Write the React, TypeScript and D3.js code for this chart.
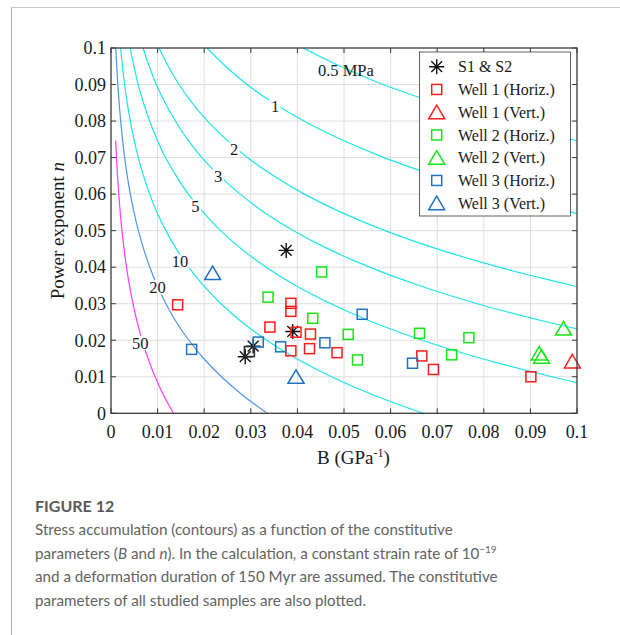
import React from "react";
import * as d3 from "d3";

type Pt = [number, number];

// Axis ticks (B in GPa^-1, power exponent n)
const axisTicks = [0, 0.01, 0.02, 0.03, 0.04, 0.05, 0.06, 0.07, 0.08, 0.09, 0.1];
const tickLabels = ["0", "0.01", "0.02", "0.03", "0.04", "0.05", "0.06", "0.07", "0.08", "0.09", "0.1"];

// Stress contours (MPa): [B, n] vertices along each level
const contourLevels = [0.5, 1, 2, 3, 5, 10, 20, 50];

const contour05: Pt[] = [
  [0.0412, 0.1], [0.0492, 0.095], [0.0584, 0.09], [0.0696, 0.085], [0.0828, 0.08], [0.0903, 0.0775], [0.1, 0.0746],
];
const contour1: Pt[] = [
  [0.0206, 0.1], [0.0246, 0.095], [0.0292, 0.09], [0.0348, 0.085], [0.0414, 0.08], [0.0493, 0.075],
  [0.0586, 0.07], [0.0698, 0.065], [0.083, 0.06], [0.1, 0.0547],
];
const contour2: Pt[] = [
  [0.0103, 0.1], [0.0123, 0.095], [0.0146, 0.09], [0.0174, 0.085], [0.0207, 0.08], [0.0247, 0.075],
  [0.0293, 0.07], [0.0349, 0.065], [0.0415, 0.06], [0.0494, 0.055], [0.0588, 0.05], [0.07, 0.045],
  [0.0833, 0.04], [0.1, 0.0347],
];
const contour3: Pt[] = [
  [0.00687, 0.1], [0.0082, 0.095], [0.00973, 0.09], [0.0116, 0.085], [0.0138, 0.08], [0.0164, 0.075],
  [0.0195, 0.07], [0.0233, 0.065], [0.0277, 0.06], [0.0329, 0.055], [0.0392, 0.05], [0.0466, 0.045],
  [0.0555, 0.04], [0.0661, 0.035], [0.0786, 0.03], [0.0936, 0.025], [0.1, 0.0231],
];
const contour5: Pt[] = [
  [0.00412, 0.1], [0.00492, 0.095], [0.00584, 0.09], [0.00696, 0.085], [0.00828, 0.08], [0.00986, 0.075],
  [0.0117, 0.07], [0.014, 0.065], [0.0166, 0.06], [0.0198, 0.055], [0.0235, 0.05], [0.028, 0.045],
  [0.0333, 0.04], [0.0396, 0.035], [0.0472, 0.03], [0.0561, 0.025], [0.0668, 0.02], [0.0795, 0.015],
  [0.0946, 0.01], [0.1, 0.0084],
];
const contour10: Pt[] = [
  [0.00206, 0.1], [0.00246, 0.095], [0.00292, 0.09], [0.00348, 0.085], [0.00414, 0.08], [0.00493, 0.075],
  [0.00586, 0.07], [0.00698, 0.065], [0.0083, 0.06], [0.00988, 0.055], [0.01176, 0.05], [0.014, 0.045],
  [0.01665, 0.04], [0.01982, 0.035], [0.02359, 0.03], [0.02807, 0.025], [0.03341, 0.02], [0.03975, 0.015],
  [0.04731, 0.01], [0.0563, 0.005], [0.067, 0],
];
const contour20: Pt[] = [
  [0.00103, 0.1], [0.00123, 0.095], [0.00146, 0.09], [0.00174, 0.085], [0.00207, 0.08], [0.00247, 0.075],
  [0.00293, 0.07], [0.00349, 0.065], [0.00415, 0.06], [0.00494, 0.055], [0.00588, 0.05], [0.007, 0.045],
  [0.00833, 0.04], [0.00991, 0.035], [0.0118, 0.03], [0.014, 0.025], [0.0167, 0.02], [0.0199, 0.015],
  [0.0237, 0.01], [0.0282, 0.005], [0.0335, 0],
];
const contour50: Pt[] = [
  [0.001, 0.0746], [0.00117, 0.07], [0.0014, 0.065], [0.00166, 0.06], [0.00198, 0.055], [0.00235, 0.05],
  [0.0028, 0.045], [0.00333, 0.04], [0.00396, 0.035], [0.00472, 0.03], [0.00561, 0.025], [0.00668, 0.02],
  [0.00795, 0.015], [0.00946, 0.01], [0.01126, 0.005], [0.0134, 0],
];

// Contour label text and anchor points [B, n]
const contourLabelText = ["1", "2", "3", "5", "10", "20", "50"];
const contourLabelPos: Pt[] = [
  [0.0352, 0.084], [0.0264, 0.0722], [0.023, 0.065], [0.0181, 0.0566], [0.0148, 0.0415], [0.01, 0.0345], [0.0063, 0.0193],
];
const unitLabelText = "0.5 MPa";
const unitLabelPos: Pt = [0.0504, 0.0938];

// Sample constitutive parameters [B, n]
const s1s2: Pt[] = [[0.0376, 0.0446], [0.039, 0.0224], [0.0305, 0.0184], [0.0288, 0.0155]];
const s1s2Square: Pt[] = [[0.0297, 0.0169]];
const well1Horiz: Pt[] = [
  [0.0143, 0.0297], [0.0386, 0.0301], [0.0386, 0.0279], [0.0341, 0.0236], [0.0397, 0.0222], [0.0428, 0.0217],
  [0.0386, 0.0171], [0.0426, 0.0177], [0.0485, 0.0166], [0.0667, 0.0157], [0.0692, 0.012], [0.0901, 0.01],
];
const well1Vert: Pt[] = [[0.099, 0.0142]];
const well2Horiz: Pt[] = [
  [0.0337, 0.0318], [0.0452, 0.0387], [0.0433, 0.026], [0.0509, 0.0216], [0.0529, 0.0146], [0.0662, 0.0219],
  [0.0731, 0.016], [0.0768, 0.0207],
];
const well2Vert: Pt[] = [[0.0971, 0.0232], [0.0919, 0.0164], [0.0924, 0.0155]];
const well3Horiz: Pt[] = [
  [0.0173, 0.0175], [0.0316, 0.0195], [0.0364, 0.0182], [0.0459, 0.0193], [0.0539, 0.0271], [0.0647, 0.0137],
];
const well3Vert: Pt[] = [[0.0218, 0.0384], [0.0397, 0.01]];

const seriesNames = [
  "S1 & S2", "Well 1 (Horiz.)", "Well 1 (Vert.)", "Well 2 (Horiz.)", "Well 2 (Vert.)", "Well 3 (Horiz.)", "Well 3 (Vert.)",
];

const SERIF = "'Liberation Serif', 'Times New Roman', serif";
const SANS = "Lato, 'Open Sans', sans-serif";

const RED = "#ff1a1a";
const GREEN = "#14e614";
const BLUE = "#1f72c0";
const CYAN = "#1de4ea";

type Shape = "square" | "triangle" | "asterisk";

function Marker({ shape, cx, cy, color }: { shape: Shape; cx: number; cy: number; color: string }) {
  if (shape === "square") {
    return <rect x={cx - 5} y={cy - 5} width={10} height={10} fill="none" stroke={color} strokeWidth={1.5} />;
  }
  if (shape === "triangle") {
    return (
      <polygon
        points={`${cx},${cy - 7} ${cx - 8},${cy + 6.5} ${cx + 8},${cy + 6.5}`}
        fill="none"
        stroke={color}
        strokeWidth={1.5}
        strokeLinejoin="miter"
      />
    );
  }
  const r = 7.5;
  const d = r * 0.72;
  return (
    <path
      d={`M${cx - r},${cy}H${cx + r}M${cx},${cy - r}V${cy + r}M${cx - d},${cy - d}L${cx + d},${cy + d}M${cx - d},${cy + d}L${cx + d},${cy - d}`}
      stroke={color}
      strokeWidth={1.4}
      fill="none"
    />
  );
}

export default function App() {
  const W = 620;
  const H = 635;
  const x = d3.scaleLinear().domain([0, 0.1]).range([111, 577]);
  const y = d3.scaleLinear().domain([0, 0.1]).range([413.3, 48]);
  const left = x(0), right = x(0.1), top = y(0.1), bottom = y(0);

  const line = d3
    .line<Pt>()
    .x((d) => x(d[0]))
    .y((d) => y(d[1]))
    .curve(d3.curveCatmullRom.alpha(0.5));

  const contours = [contour05, contour1, contour2, contour3, contour5, contour10, contour20, contour50];
  const contourColor = (lvl: number) => (lvl === 50 ? "#ff3cff" : lvl === 20 ? "#5095e6" : CYAN);

  const series: { pts: Pt[]; shape: Shape; color: string }[] = [
    { pts: s1s2, shape: "asterisk", color: "#111" },
    { pts: well1Horiz, shape: "square", color: RED },
    { pts: well1Vert, shape: "triangle", color: RED },
    { pts: well2Horiz, shape: "square", color: GREEN },
    { pts: well2Vert, shape: "triangle", color: GREEN },
    { pts: well3Horiz, shape: "square", color: BLUE },
    { pts: well3Vert, shape: "triangle", color: BLUE },
  ];

  const tickLen = 5;
  const axisColor = "#3a3a3a";

  return (
    <svg
      width={W}
      height={H}
      viewBox={`0 0 ${W} ${H}`}
      style={{ position: "absolute", left: 0, top: 0, background: "#fff" }}
    >
      <defs>
        <clipPath id="plot-clip">
          <rect x={left} y={top} width={right - left} height={bottom - top} />
        </clipPath>
        <mask id="label-gaps" maskUnits="userSpaceOnUse" x={0} y={0} width={W} height={H}>
          <rect x={0} y={0} width={W} height={H} fill="#fff" />
          {contourLabelPos.map((p, i) => {
            const w = contourLabelText[i].length * 8.3 + 3;
            return <rect key={i} x={x(p[0]) - w / 2} y={y(p[1]) - 7} width={w} height={14} fill="#000" />;
          })}
        </mask>
      </defs>

      {/* page frame */}
      <line x1={11.5} y1={7.5} x2={W} y2={7.5} stroke="#c4c4c4" strokeWidth={1} />
      <line x1={11.5} y1={7.5} x2={11.5} y2={H} stroke="#b4b4b4" strokeWidth={1} />

      {/* grid */}
      <g stroke="#dedede" strokeWidth={1}>
        {axisTicks.slice(1, -1).map((t) => (
          <line key={"gx" + t} x1={x(t)} x2={x(t)} y1={top} y2={bottom} />
        ))}
        {axisTicks.slice(1, -1).map((t) => (
          <line key={"gy" + t} x1={left} x2={right} y1={y(t)} y2={y(t)} />
        ))}
      </g>

      {/* stress contours */}
      <g clipPath="url(#plot-clip)">
        <g mask="url(#label-gaps)">
          {contours.map((c, i) => (
            <path key={i} d={line(c) || ""} fill="none" stroke={contourColor(contourLevels[i])} strokeWidth={1.2} />
          ))}
        </g>
      </g>

      {/* contour labels */}
      <g fontFamily={SERIF} fontSize={16.5} fill="#1a1a1a" textAnchor="middle">
        {contourLabelPos.map((p, i) => (
          <text key={i} x={x(p[0])} y={y(p[1])} dy="0.35em">
            {contourLabelText[i]}
          </text>
        ))}
        <text x={x(unitLabelPos[0])} y={y(unitLabelPos[1])} dy="0.35em">
          {unitLabelText}
        </text>
      </g>

      {/* samples */}
      <g>
        {series.map((s, si) =>
          s.pts.map((p, pi) => <Marker key={si + "-" + pi} shape={s.shape} cx={x(p[0])} cy={y(p[1])} color={s.color} />)
        )}
        {s1s2Square.map((p, i) => (
          <Marker key={"sq" + i} shape="square" cx={x(p[0])} cy={y(p[1])} color="#2a2a2a" />
        ))}
      </g>

      {/* axes box and ticks */}
      <rect x={left} y={top} width={right - left} height={bottom - top} fill="none" stroke={axisColor} strokeWidth={1.3} />
      <g stroke={axisColor} strokeWidth={1}>
        {axisTicks.map((t) => (
          <g key={"t" + t}>
            <line x1={x(t)} x2={x(t)} y1={bottom} y2={bottom - tickLen} />
            <line x1={x(t)} x2={x(t)} y1={top} y2={top + tickLen} />
            <line x1={left} x2={left + tickLen} y1={y(t)} y2={y(t)} />
            <line x1={right} x2={right - tickLen} y1={y(t)} y2={y(t)} />
          </g>
        ))}
      </g>

      {/* tick labels */}
      <g fontFamily={SERIF} fontSize={18} fill="#1a1a1a">
        {axisTicks.map((t, i) => (
          <text key={"xl" + t} x={x(t)} y={bottom + 24.5} textAnchor="middle">
            {tickLabels[i]}
          </text>
        ))}
        {axisTicks.map((t, i) => (
          <text key={"yl" + t} x={left - 5} y={y(t)} dy="0.35em" textAnchor="end">
            {tickLabels[i]}
          </text>
        ))}
      </g>

      {/* axis titles */}
      <text x={317} y={464} fontFamily={SERIF} fontSize={19} fill="#1a1a1a">
        B (GPa
        <tspan dy={-7} fontSize={12}>
          -1
        </tspan>
        <tspan dy={7}>)</tspan>
      </text>
      <text
        transform={`translate(64, ${(top + bottom) / 2}) rotate(-90)`}
        textAnchor="middle"
        fontFamily={SERIF}
        fontSize={19}
        fill="#1a1a1a"
      >
        Power exponent <tspan fontStyle="italic">n</tspan>
      </text>

      {/* legend */}
      <g>
        <rect x={419.5} y={52} width={151} height={164} fill="#fff" stroke="#3a3a3a" strokeWidth={0.8} />
        {seriesNames.map((name, i) => {
          const cy = 66.7 + i * 22.75;
          const s = series[i];
          return (
            <g key={name}>
              <Marker shape={s.shape} cx={436.7} cy={cy} color={s.color} />
              <text x={458} y={cy} dy="0.35em" fontFamily={SERIF} fontSize={16} fill="#1a1a1a">
                {name}
              </text>
            </g>
          );
        })}
      </g>

      {/* caption */}
      <g fontFamily={SANS} fill="#636363">
        <text x={35} y={512} fontSize={16} fontWeight={700} fill="#5a5a5a">
          FIGURE 12
        </text>
        <g fontSize={15.2}>
          <text x={35} y={535}>
            Stress accumulation (contours) as a function of the constitutive
          </text>
          <text x={35} y={558.5}>
            parameters (<tspan fontStyle="italic">B</tspan> and <tspan fontStyle="italic">n</tspan>). In the calculation, a
            constant strain rate of 10
            <tspan dy={-6} fontSize={10}>
              −19
            </tspan>
          </text>
          <text x={35} y={582}>
            and a deformation duration of 150 Myr are assumed. The constitutive
          </text>
          <text x={35} y={605.5}>
            parameters of all studied samples are also plotted.
          </text>
        </g>
      </g>
    </svg>
  );
}
